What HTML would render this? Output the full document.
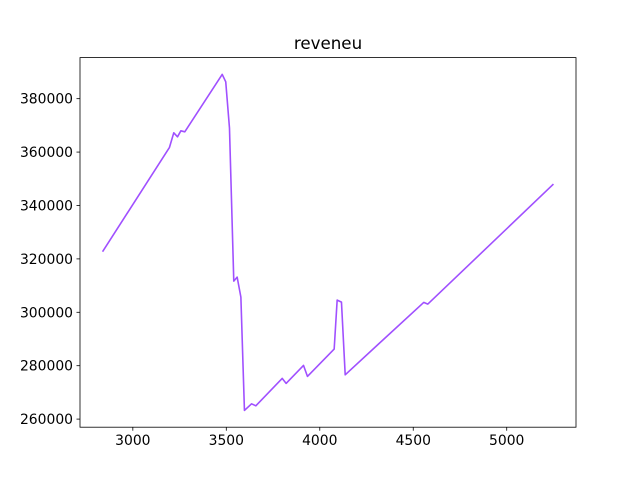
<!DOCTYPE html>
<html><head><meta charset="utf-8"><style>
body{margin:0;background:#fff;}
svg text{font-family:"DejaVu Sans","Liberation Sans",sans-serif;fill:#000;}
</style></head><body>
<svg id="chart" width="640" height="480" xmlns="http://www.w3.org/2000/svg">
<rect width="640" height="480" fill="#fff"/>
<text x="328" y="49" font-size="16.7" text-anchor="middle">reveneu</text>
<g id="xticks"></g>
<g id="yticks"></g>
<path id="line" fill="none" stroke="#a050ff" stroke-width="1.6" stroke-linejoin="round"/>
<rect x="80" y="57.6" width="496" height="369.6" fill="none" stroke="#000" stroke-width="0.8"/>
</svg>
<script>
const xValues=[2838,3196,3219,3239,3257,3278,3478,3497,3517,3540,3558,3578,3597,3635,3658,3799,3820,3913,3934,4077,4093,4116,4136,4318,4556,4578,5250];
const yValues=[322700,361750,367220,365720,367970,367590,389090,386320,368980,311680,313180,305690,263260,265730,264980,275240,273370,280110,275990,286210,304570,303820,276590,288350,303700,303070,348010];
const xTickValues=[3000,3500,4000,4500,5000];
const yTickValues=[260000,280000,300000,320000,340000,360000,380000];
const L=80,R=576,T=57.6,B=427.2;
const xmin0=Math.min(...xValues),xmax0=Math.max(...xValues);
const ymin0=Math.min(...yValues),ymax0=Math.max(...yValues);
const xm=(xmax0-xmin0)*0.05,ym=(ymax0-ymin0)*0.05;
const xmin=xmin0-xm,xmax=xmax0+xm,ymin=ymin0-ym,ymax=ymax0+ym;
const sx=v=>L+(v-xmin)/(xmax-xmin)*(R-L);
const sy=v=>B-(v-ymin)/(ymax-ymin)*(B-T);
const NS="http://www.w3.org/2000/svg";
document.getElementById('line').setAttribute('d',xValues.map((x,i)=>(i?'L':'M')+sx(x).toFixed(2)+','+sy(yValues[i]).toFixed(2)).join(''));
const gx=document.getElementById('xticks');
xTickValues.forEach(v=>{
  const x=sx(v);
  const ln=document.createElementNS(NS,'line');
  ln.setAttribute('x1',x);ln.setAttribute('x2',x);ln.setAttribute('y1',B);ln.setAttribute('y2',B+3.5);
  ln.setAttribute('stroke','#000');ln.setAttribute('stroke-width','0.8');
  
  
  gx.appendChild(ln);
  const t=document.createElementNS(NS,'text');
  t.setAttribute('x',x);t.setAttribute('y',B+18);t.setAttribute('font-size','13.9');t.setAttribute('text-anchor','middle');
  t.textContent=v;
  
  
  gx.appendChild(t);
});
const gy=document.getElementById('yticks');
yTickValues.forEach(v=>{
  const y=sy(v);
  const ln=document.createElementNS(NS,'line');
  ln.setAttribute('x1',L-3.5);ln.setAttribute('x2',L);ln.setAttribute('y1',y);ln.setAttribute('y2',y);
  ln.setAttribute('stroke','#000');ln.setAttribute('stroke-width','0.8');
  
  
  gy.appendChild(ln);
  const t=document.createElementNS(NS,'text');
  t.setAttribute('x',L-7);t.setAttribute('y',y+5);t.setAttribute('font-size','13.9');t.setAttribute('text-anchor','end');
  t.textContent=v;
  
  
  gy.appendChild(t);
});
</script>
</body></html>
